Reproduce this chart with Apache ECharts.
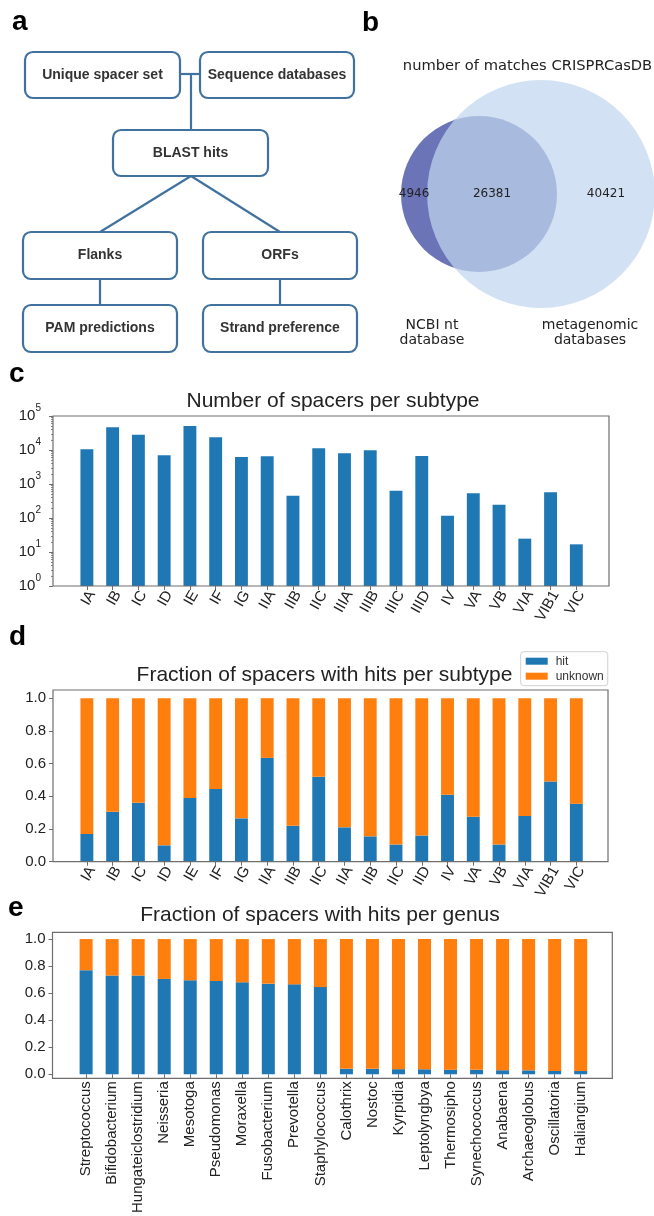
<!DOCTYPE html>
<html>
<head>
<meta charset="utf-8">
<script src="https://cdn.jsdelivr.net/npm/echarts@6/dist/echarts.min.js"></script>
<style>
html, body { margin: 0; padding: 0; background: #fff; }
#chart { width: 654px; height: 1216px; }
</style>
</head>
<body>
<div id="chart"></div>
<script>
// ---- data ----
// a: workflow boxes
const flowLabels = ['Unique spacer set', 'Sequence databases', 'BLAST hits', 'Flanks', 'ORFs', 'PAM predictions', 'Strand preference'];

// b: venn (NCBI only, both, metagenomic only)
const vennSetNames = ['NCBI nt\ndatabase', 'metagenomic\ndatabases'];
const vennValues = [4946, 26381, 40421];

// c: spacers per subtype
const subtypes = ['IA', 'IB', 'IC', 'ID', 'IE', 'IF', 'IG', 'IIA', 'IIB', 'IIC', 'IIIA', 'IIIB', 'IIIC', 'IIID', 'IV', 'VA', 'VB', 'VIA', 'VIB1', 'VIC'];
const spacerCounts = [10500, 46500, 28200, 6980, 50800, 23600, 6220, 6520, 453, 11200, 7980, 9770, 635, 6670, 117, 531, 247, 24.7, 569, 16.8];
const logTicks = [1, 10, 100, 1000, 10000, 100000];

// d: fraction with hits per subtype (labels as printed)
const subtypeLabelsD = ['IA', 'IB', 'IC', 'ID', 'IE', 'IF', 'IG', 'IIA', 'IIB', 'IIC', 'IIA', 'IIB', 'IIC', 'IID', 'IV', 'VA', 'VB', 'VIA', 'VIB1', 'VIC'];
const hitSubtype = [0.17, 0.305, 0.36, 0.10, 0.39, 0.445, 0.265, 0.635, 0.22, 0.52, 0.21, 0.155, 0.105, 0.16, 0.41, 0.275, 0.105, 0.28, 0.49, 0.355];
const unknownSubtype = [0.83, 0.695, 0.64, 0.90, 0.61, 0.555, 0.735, 0.365, 0.78, 0.48, 0.79, 0.845, 0.895, 0.84, 0.59, 0.725, 0.895, 0.72, 0.51, 0.645];

// e: fraction with hits per genus
const genera = ['Streptococcus', 'Bifidobacterium', 'Hungateiclostridium', 'Neisseria', 'Mesotoga', 'Pseudomonas', 'Moraxella', 'Fusobacterium', 'Prevotella', 'Staphylococcus', 'Calothrix', 'Nostoc', 'Kyrpidia', 'Leptolyngbya', 'Thermosipho', 'Synechococcus', 'Anabaena', 'Archaeoglobus', 'Oscillatoria', 'Haliangium'];
const hitGenus = [0.77, 0.73, 0.73, 0.705, 0.695, 0.69, 0.68, 0.67, 0.665, 0.645, 0.04, 0.04, 0.038, 0.037, 0.034, 0.033, 0.03, 0.029, 0.025, 0.024];
const unknownGenus = [0.23, 0.27, 0.27, 0.295, 0.305, 0.31, 0.32, 0.33, 0.335, 0.355, 0.96, 0.96, 0.962, 0.963, 0.966, 0.967, 0.97, 0.971, 0.975, 0.976];
const fracTicks = [0, 0.2, 0.4, 0.6, 0.8, 1.0];

// ---- styles / layout ----
const SANS = '"Liberation Sans", Arial, sans-serif';
const DJV = '"DejaVu Sans", sans-serif';
const BLUE = '#1f77b4', ORANGE = '#ff7f0e';
const FRAME = '#6e6e6e', TXT = '#222', FLOW = '#41729f';

// minor ticks of the log axis (2..9 in every decade)
const logMinor = [];
for (let k = 0; k < 5; k++) for (let m = 2; m < 10; m++) logMinor.push(m * Math.pow(10, k));

// flowchart boxes [x, y, w, h] and connector segments
const flowLayout = [[25, 52, 155, 46], [200, 52, 154, 46], [113, 130, 155, 46], [23, 232, 154, 47], [203, 232, 154, 47], [23, 305, 154, 47], [203, 305, 154, 47]];
const flowLinks = [[180, 74, 200, 74], [191, 74, 191, 130], [191, 176, 100, 232], [191, 176, 280, 232], [100, 279, 100, 305], [280, 279, 280, 305]];

// venn geometry: radii from areas, distance from overlap area
const r1 = Math.sqrt((vennValues[0] + vennValues[1]) / Math.PI);
const r2 = Math.sqrt((vennValues[1] + vennValues[2]) / Math.PI);
function lensArea(d) {
  const a1 = Math.acos((d * d + r1 * r1 - r2 * r2) / (2 * d * r1));
  const a2 = Math.acos((d * d + r2 * r2 - r1 * r1) / (2 * d * r2));
  const k = Math.sqrt((-d + r1 + r2) * (d + r1 - r2) * (d - r1 + r2) * (d + r1 + r2));
  return r1 * r1 * a1 + r2 * r2 * a2 - 0.5 * k;
}
let lo = Math.abs(r2 - r1) + 1e-6, hi = r1 + r2 - 1e-6;
for (let i = 0; i < 80; i++) {
  const mid = (lo + hi) / 2;
  if (lensArea(mid) > vennValues[1]) lo = mid; else hi = mid;
}
const vennDist = (lo + hi) / 2;
const vennGrid = { left: 380, top: 80, width: 274, height: 230 };
const vennCenterPx = [479, 194], vennRadiusPx = 78;
const vpx = vennRadiusPx / r1;
const vxMin = (vennGrid.left - vennCenterPx[0]) / vpx;
const vyMax = (vennCenterPx[1] - vennGrid.top) / vpx;

const frames = [[53, 416, 556, 170], [53, 690, 555, 171.7], [52.5, 932.3, 559.8, 146]];

function txt(x, y, text, size, opts) {
  opts = opts || {};
  return {
    type: 'text', x: x, y: y, z: 100,
    style: {
      text: text, fill: opts.color || '#111',
      font: (opts.bold ? 'bold ' : '') + size + 'px ' + (opts.family || SANS),
      align: opts.align || 'center', verticalAlign: 'middle',
      textAlign: opts.align || 'center', textVerticalAlign: 'middle',
      lineHeight: opts.lineHeight
    }
  };
}

const graphics = [];
flowLinks.forEach(l => graphics.push({
  type: 'line', z: 10, shape: { x1: l[0], y1: l[1], x2: l[2], y2: l[3] },
  style: { stroke: FLOW, lineWidth: 2.2 }
}));
flowLabels.forEach((name, i) => {
  const b = flowLayout[i];
  graphics.push({
    type: 'rect', z: 20, shape: { x: b[0], y: b[1], width: b[2], height: b[3], r: 8 },
    style: { fill: '#fff', stroke: FLOW, lineWidth: 2.2 }
  });
  graphics.push(txt(b[0] + b[2] / 2, b[1] + b[3] / 2, name, 14, { bold: true, color: '#333' }));
});
frames.forEach(f => graphics.push({
  type: 'rect', z: 100, shape: { x: f[0], y: f[1], width: f[2], height: f[3] },
  style: { fill: 'none', stroke: FRAME, lineWidth: 1.2 }
}));
// panel letters
[['a', 12, 22], ['b', 362, 23], ['c', 9, 374], ['d', 9, 637], ['e', 8, 908]].forEach(p =>
  graphics.push(txt(p[1], p[2], p[0], 28, { bold: true, align: 'left', color: '#000' })));
// titles
graphics.push(txt(333, 401.6, 'Number of spacers per subtype', 21, { color: TXT }));
graphics.push(txt(324.5, 675.6, 'Fraction of spacers with hits per subtype', 21, { color: TXT }));
graphics.push(txt(320, 915, 'Fraction of spacers with hits per genus', 21, { color: TXT }));
graphics.push(txt(527.5, 66.6, 'number of matches CRISPRCasDB', 14.7, { family: DJV, color: TXT }));
graphics.push(txt(432, 332.5, vennSetNames[0], 14, { family: DJV, color: TXT, lineHeight: 15 }));
graphics.push(txt(590, 332.5, vennSetNames[1], 14, { family: DJV, color: TXT, lineHeight: 15 }));

function catAxis(grid, data, showTicks, showLabels, rotate) {
  return {
    type: 'category', gridIndex: grid, data: data,
    axisLine: { show: false }, splitLine: { show: false },
    axisTick: { show: showTicks, alignWithLabel: true, length: 4, lineStyle: { color: FRAME } },
    axisLabel: { show: showLabels, interval: 0, rotate: rotate, margin: rotate === 90 ? 7 : 6, fontFamily: SANS, fontSize: 15, color: TXT }
  };
}
function fracAxis(grid, offset) {
  return {
    type: 'value', gridIndex: grid, min: 0, max: 1.05, offset: offset,
    axisLine: { show: false }, splitLine: { show: false },
    axisTick: { show: true, length: 4, customValues: fracTicks, lineStyle: { color: FRAME } },
    axisLabel: { customValues: fracTicks, formatter: v => v.toFixed(1), fontFamily: SANS, fontSize: 15, color: TXT, margin: 7 }
  };
}
function hidden(grid) { return { type: 'value', gridIndex: grid, show: false, min: 0, max: 1 }; }

const option = {
  animation: false,
  backgroundColor: '#fff',
  graphic: graphics,
  grid: [
    { left: 74, top: 416, width: 515.2, height: 170 },
    { left: 79, top: 416, width: 515.2, height: 170 },
    { left: 74, top: 690, width: 515.2, height: 171.7 },
    { left: 79, top: 690, width: 515.2, height: 171.7 },
    { left: 73.1, top: 932.3, width: 520.6, height: 146 },
    vennGrid
  ],
  xAxis: [
    catAxis(0, subtypes, true, false, 60),
    catAxis(1, subtypes, false, true, 60),
    catAxis(2, subtypeLabelsD, true, false, 60),
    catAxis(3, subtypeLabelsD, false, true, 60),
    catAxis(4, genera, true, true, 90),
    { type: 'value', gridIndex: 5, show: false, min: vxMin, max: vxMin + vennGrid.width / vpx }
  ],
  yAxis: [
    {
      type: 'log', gridIndex: 0, position: 'left', logBase: 10, min: 1, max: 100000, offset: 21,
      axisLine: { show: false }, splitLine: { show: false },
      axisTick: { show: true, length: 4, customValues: logTicks, lineStyle: { color: FRAME } },
      axisLabel: {
        customValues: logTicks, margin: 12,
        formatter: v => '{b|10}{s|' + Math.round(Math.log10(v)) + '}',
        rich: {
          b: { fontFamily: SANS, fontSize: 15, color: TXT },
          s: { fontFamily: SANS, fontSize: 10, color: TXT, padding: [0, 0, 15, 0] }
        }
      }
    },
    hidden(1),
    fracAxis(2, 21),
    hidden(3),
    fracAxis(4, 20.6),
    { type: 'value', gridIndex: 5, show: false, min: vyMax - vennGrid.height / vpx, max: vyMax },
    {
      type: 'log', gridIndex: 0, position: 'left', logBase: 10, min: 1, max: 100000, offset: 21,
      axisLine: { show: false }, splitLine: { show: false },
      axisTick: { show: true, length: 2, customValues: logMinor, lineStyle: { color: FRAME, width: 0.8 } },
      axisLabel: { show: false }
    }
  ],
  legend: {
    data: ['hit', 'unknown'], orient: 'vertical', left: 520.7, top: 651.7,
    icon: 'rect', itemWidth: 22, itemHeight: 7, itemGap: 2,
    padding: [3, 4, 3, 5], backgroundColor: '#fff', borderColor: '#d0d0d0', borderWidth: 1, borderRadius: 3,
    textStyle: { fontFamily: SANS, fontSize: 12, color: '#333', lineHeight: 13, padding: [0, 0, 0, 3] }
  },
  series: [
    { name: 'count', type: 'bar', xAxisIndex: 0, yAxisIndex: 0, data: spacerCounts, barWidth: '50%', itemStyle: { color: BLUE } },
    { name: 'hit', type: 'bar', xAxisIndex: 2, yAxisIndex: 2, stack: 'd', data: hitSubtype, barWidth: '50%', itemStyle: { color: BLUE } },
    { name: 'unknown', type: 'bar', xAxisIndex: 2, yAxisIndex: 2, stack: 'd', data: unknownSubtype, barWidth: '50%', itemStyle: { color: ORANGE } },
    { name: 'hit', type: 'bar', xAxisIndex: 4, yAxisIndex: 4, stack: 'e', data: hitGenus, barWidth: '50%', itemStyle: { color: BLUE } },
    { name: 'unknown', type: 'bar', xAxisIndex: 4, yAxisIndex: 4, stack: 'e', data: unknownGenus, barWidth: '50%', itemStyle: { color: ORANGE } },
    {
      name: 'venn', type: 'custom', xAxisIndex: 5, yAxisIndex: 5, data: [[0, 0]], silent: true, clip: false,
      renderItem: function (params, api) {
        const cA = api.coord([0, 0]);
        const cB = api.coord([vennDist, 0]);
        const unit = api.size([1, 0])[0];
        const ra = r1 * unit, rb = r2 * unit;
        const xs = [
          ((cA[0] - ra) + (cB[0] - rb)) / 2,
          ((cB[0] - rb) + (cA[0] + ra)) / 2,
          ((cA[0] + ra) + (cB[0] + rb)) / 2
        ];
        const children = [
          { type: 'circle', shape: { cx: cA[0], cy: cA[1], r: ra }, style: { fill: '#6b74b6' } },
          { type: 'circle', shape: { cx: cB[0], cy: cB[1], r: rb }, style: { fill: 'rgba(193,213,238,0.72)' } }
        ];
        vennValues.forEach((v, i) => children.push({
          type: 'text', x: xs[i], y: cA[1],
          style: { text: String(v), fill: TXT, font: '12px ' + DJV, align: 'center', verticalAlign: 'middle' }
        }));
        return { type: 'group', children: children };
      }
    }
  ]
};

const chart = echarts.init(document.getElementById('chart'));
chart.setOption(option);
</script>
</body>
</html>
